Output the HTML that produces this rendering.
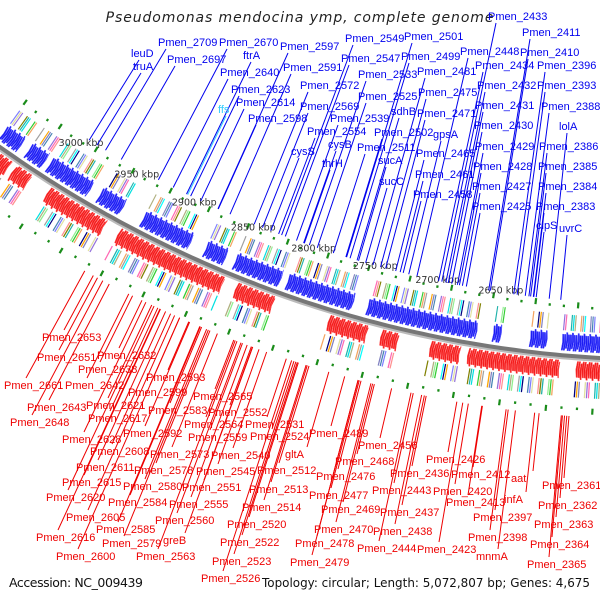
<!DOCTYPE html>
<html><head><meta charset="utf-8"><style>
html,body{margin:0;padding:0;background:#fff;}
svg{display:block;font-family:"Liberation Sans",sans-serif;}
</style></head><body>
<svg id="map" width="600" height="600" viewBox="0 0 600 600" xmlns="http://www.w3.org/2000/svg">
<text x="300" y="22" text-anchor="middle" font-size="14" letter-spacing="0.9" font-style="italic" fill="#222" font-family="DejaVu Sans, sans-serif">Pseudomonas mendocina ymp, complete genome</text>
<g id="genes"></g>
<g id="labels"></g>
<text x="9" y="587" font-size="12.5" textLength="134" fill="#111" font-family="DejaVu Sans, sans-serif">Accession: NC_009439</text>
<text x="262" y="587" font-size="12.5" textLength="328" lengthAdjust="spacingAndGlyphs" fill="#111" font-family="DejaVu Sans, sans-serif">Topology: circular; Length: 5,072,807 bp; Genes: 4,675</text>
</svg>
<script>
// ---- data ----
const tickKbp = [3000, 2950, 2900, 2850, 2800, 2750, 2700, 2650];
const forwardBlocks = [[3068,3052],[3045,3030],[3026,2990],[2982,2962],[2945,2905],[2893,2877],[2869,2832],[2827,2775],[2764,2680],[2668,2662],[2640,2627],[2616,2582]];
const reverseBlocks = [[3068,3050],[3046,3032],[3016,2968],[2956,2871],[2861,2832],[2789,2760],[2749,2736],[2712,2690],[2684,2616],[2604,2582]];
const blueLabels = [["leuD",131,53],["truA",133,66],["Pmen_2709",158,42],["Pmen_2697",167,59],["Pmen_2670",219,42],["ftrA",243,55],["Pmen_2640",220,72],["Pmen_2623",231,89],["Pmen_2614",236,102],["Pmen_2598",248,118],
["Pmen_2597",280,46],["Pmen_2591",283,67],["Pmen_2572",300,85],["Pmen_2569",300,106],["cysS",291,151],["Pmen_2549",345,38],["Pmen_2547",341,58],["Pmen_2533",358,74],["Pmen_2525",358,96],["Pmen_2539",330,118],["Pmen_2554",307,131],["cysB",328,144],["thrH",322,163],["Pmen_2502",374,132],["sdhB",391,111],["Pmen_2511",357,147],["sucA",378,160],["sucC",379,181],
["Pmen_2501",404,36],["Pmen_2499",401,56],["Pmen_2481",417,71],["Pmen_2475",418,92],["Pmen_2471",417,113],["gpsA",433,134],["Pmen_2465",416,153],["Pmen_2461",415,174],["Pmen_2458",413,194],
["Pmen_2433",488,16],["Pmen_2448",460,51],["Pmen_2434",475,65],["Pmen_2432",477,85],["Pmen_2431",475,105],["Pmen_2430",474,125],["Pmen_2429",475,146],["Pmen_2428",473,166],["Pmen_2427",472,186],["Pmen_2425",472,206],
["Pmen_2411",522,32],["Pmen_2410",520,52],["Pmen_2396",537,65],["Pmen_2393",537,85],["Pmen_2388",541,106],["lolA",559,126],["Pmen_2386",539,146],["Pmen_2385",538,166],["Pmen_2384",538,186],["Pmen_2383",536,206],["clpS",536,225],["uvrC",559,228]];
const redLabels = [["Pmen_2653",42,337],["Pmen_2651",37,357],["Pmen_2632",97,355],["Pmen_2638",78,369],["Pmen_2661",4,385],["Pmen_2642",65,385],["Pmen_2593",146,377],["Pmen_2599",128,392],["Pmen_2643",27,407],["Pmen_2621",86,405],["Pmen_2583",148,410],["Pmen_2565",193,396],["Pmen_2552",208,412],["Pmen_2648",10,422],["Pmen_2617",88,418],["Pmen_2564",184,424],["Pmen_2531",245,424],["Pmen_2628",62,439],["Pmen_2592",123,433],["Pmen_2559",188,437],["Pmen_2524",250,436],["Pmen_2608",90,451],["Pmen_2573",150,454],["Pmen_2540",211,455],["gltA",285,454],["Pmen_2611",76,467],["Pmen_2578",134,470],["Pmen_2545",196,471],["Pmen_2512",257,470],["Pmen_2615",62,482],["Pmen_2580",123,486],["Pmen_2551",182,487],["Pmen_2513",249,489],["Pmen_2620",46,497],["Pmen_2584",108,502],["Pmen_2555",169,504],["Pmen_2514",242,507],["Pmen_2605",66,517],["Pmen_2560",155,520],["Pmen_2520",227,524],["Pmen_2585",96,529],["Pmen_2616",36,537],["Pmen_2579",102,543],["greB",163,540],["Pmen_2522",220,542],["Pmen_2600",56,556],["Pmen_2563",136,556],["Pmen_2523",212,561],["Pmen_2526",201,578],
["Pmen_2489",309,433],["Pmen_2456",358,445],["Pmen_2468",335,461],["Pmen_2436",390,473],["Pmen_2426",426,459],["Pmen_2476",316,476],["Pmen_2412",451,474],["aat",511,478],["Pmen_2443",372,490],["Pmen_2420",433,491],["Pmen_2477",309,495],["Pmen_2413",446,502],["infA",504,499],["Pmen_2361",542,485],["Pmen_2469",321,509],["Pmen_2437",380,512],["Pmen_2397",473,517],["Pmen_2362",538,505],["Pmen_2470",314,529],["Pmen_2438",373,531],["Pmen_2363",534,524],["Pmen_2398",468,537],["Pmen_2478",295,543],["Pmen_2444",357,548],["Pmen_2423",417,549],["Pmen_2364",530,544],["mnmA",476,556],["Pmen_2479",290,562],["Pmen_2365",527,564]];
const cogColors = ["#7f7fff","#00ffff","#b0b080","#ff69b4","#8080c0","#f4a460","#20b2aa","#e0e0a0","#000080","#90ee90","#ff9090","#4682b4","#a0a0a0","#00e0e0","#9370db","#ffa500","#32cd32","#808000"];

// ---- geometry ----
const CX = 666, CY = -788.3, R = 1148.2;
function thetaAtX(x){ const dx = x - CX; return Math.atan2(Math.sqrt(R*R - dx*dx), dx); }
const TH0 = thetaAtX(72), TH1 = thetaAtX(515);
function th(kbp){ return TH0 + (kbp - 3000) / (2650 - 3000) * (TH1 - TH0); }
function pt(kbp, off){ const t = th(kbp); return [CX + (R + off) * Math.cos(t), CY + (R + off) * Math.sin(t)]; }
const NS = "http://www.w3.org/2000/svg";
const G = document.getElementById('genes'), L = document.getElementById('labels');
function mk(tag, attrs, parent){ const e = document.createElementNS(NS, tag); for (const k in attrs) e.setAttribute(k, attrs[k]); parent.appendChild(e); return e; }
function poly(pts){ return pts.map(p => p[0].toFixed(1) + ',' + p[1].toFixed(1)).join(' '); }

// backbone
{
  let d1 = '', d2 = '';
  for (let k = 3075; k >= 2570; k -= 5) { const p = pt(k, 0), q = pt(k, 2.5); d1 += (d1 ? 'L' : 'M') + p[0].toFixed(1) + ' ' + p[1].toFixed(1); d2 += (d2 ? 'L' : 'M') + q[0].toFixed(1) + ' ' + q[1].toFixed(1); }
  const b2 = mk('path', {d: d2, stroke: '#bbb', 'stroke-width': 3, fill: 'none'}, G);
  
  
  const b = mk('path', {d: d1, stroke: '#777', 'stroke-width': 4, fill: 'none'}, G);
  
  
}

// genes
function drawStrand(blocks, sign, fill, edge, name){
  let idx = 0;
  blocks.forEach(bl => {
    const hi = bl[0], lo = bl[1];
    for (let s = hi; s > lo; s -= 1.45) {
      const e = Math.max(lo, s - 1.7);
      const tier = (idx % 3 === 1) ? 2 : 0;
      const o1 = sign * (5 + tier), o2 = sign * (21 + tier), om = (o1 + o2) / 2;
      let shape;
      if (sign < 0) {
        shape = [pt(s, o1), pt(e + 0.7, o1), pt(e, om), pt(e + 0.7, o2), pt(s, o2), pt(s - 0.5, om)];
      } else {
        shape = [pt(e, o1), pt(s - 0.7, o1), pt(s, om), pt(s - 0.7, o2), pt(e, o2), pt(e + 0.5, om)];
      }
      const g = mk('polygon', {points: poly(shape), fill: fill, stroke: edge, 'stroke-width': 0.5}, G);
      
      
      if (idx % 5 < 3) {
        const c = cogColors[(idx * 7) % cogColors.length];
        const r1 = sign * 25, r2 = sign * 41;
        const rr = mk('polygon', {points: poly([pt(s, r1), pt(s - 0.9, r1), pt(s - 0.9, r2), pt(s, r2)]), fill: c}, G);
        
        
      }
      idx++;
    }
  });
}
drawStrand(forwardBlocks, -1, '#1a1af2', '#5050ff', 'forward-gene-arrow');
drawStrand(reverseBlocks, 1, '#f21a1a', '#ff5050', 'reverse-gene-arrow');

// green tick dots
let di = 0;
for (let k = 3068; k > 2580; k -= 11) {
  [[-48, 0], [51, 5]].forEach(([o, sh]) => {
    const len = (di % 3 === 0) ? 6 : 2.5;
    const a = pt(k - sh, o), b = pt(k - sh, o + (o < 0 ? -len : len));
    const dl = mk('line', {x1: a[0], y1: a[1], x2: b[0], y2: b[1], stroke: '#1a8c1a', 'stroke-width': 2.2}, G);
    
    
    di++;
  });
}

// kbp ticks
tickKbp.forEach(k => {
  const p = pt(k, -60);
  const t = mk('text', {x: p[0] - 22, y: p[1] + 3, 'font-size': 9.5, 'text-anchor': 'middle', fill: '#333', 'font-family': 'DejaVu Sans, sans-serif'}, L);
  t.textContent = k + ' kbp';
  
  
});

// labels
function radial(P, off){ const dx = P[0] - CX, dy = P[1] - CY; const d = Math.hypot(dx, dy); const s = (R + off) / d; return [CX + dx * s, CY + dy * s]; }
function drawLabels(list, color, isBlue){
  list.forEach(([name, x, y]) => {
    const col = name === 'ffs' ? '#33ccff' : color;
    const A = isBlue ? [x + 8, y + 7] : [x + 22, y - 7];
    const E = radial(A, isBlue ? -55 : 60);
    const ln = mk('line', {x1: A[0], y1: A[1], x2: E[0], y2: E[1], stroke: col, 'stroke-width': 1}, L);
    
    
    const t = mk('text', {x: x, y: y + 4, 'font-size': 11, fill: col}, L);
    t.textContent = name;
    
    
  });
}
drawLabels(blueLabels.concat([["ffs",218,109]]), '#0000ee', true);
drawLabels(redLabels, '#ee0000', false);
</script>
</body></html>
